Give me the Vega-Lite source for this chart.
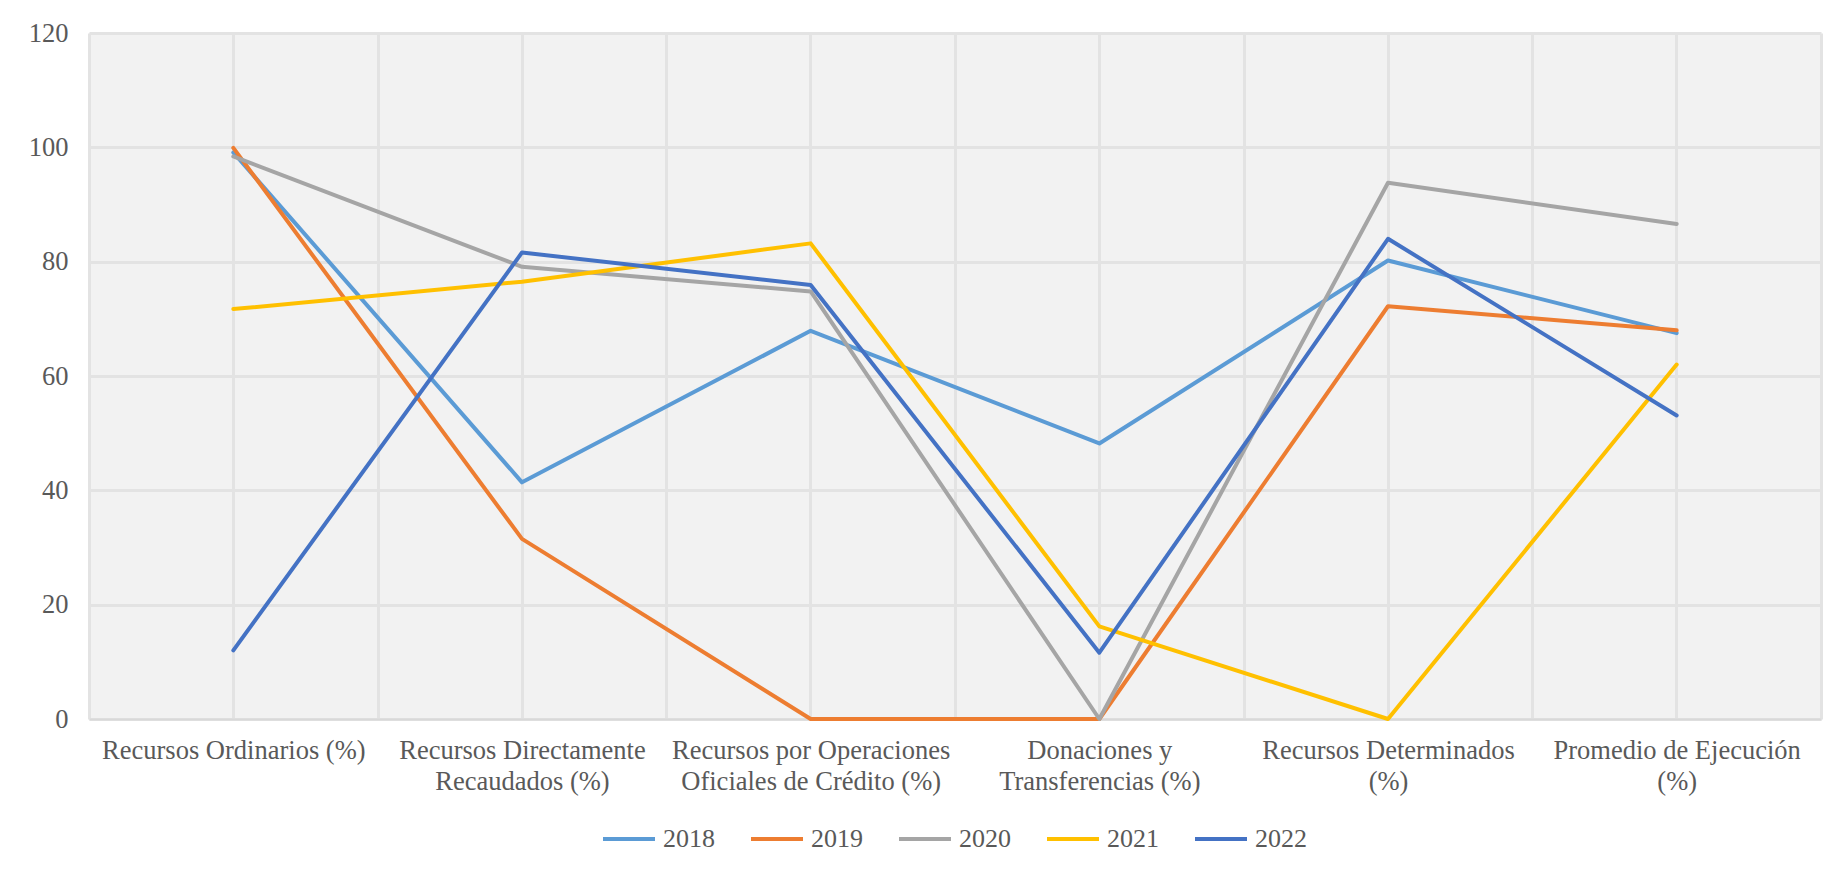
{
  "$schema": "https://vega.github.io/schema/vega-lite/v6.json",
  "autosize": {"type": "none"},
  "padding": {"left": 89, "top": 33, "right": 22, "bottom": 151},
  "width": 1732,
  "height": 686,
  "background": "white",
  "data": {
    "values": [
      {"cat": "Recursos Ordinarios (%)", "year": "2018", "v": 99.1},
      {"cat": "Recursos Ordinarios (%)", "year": "2019", "v": 99.9},
      {"cat": "Recursos Ordinarios (%)", "year": "2020", "v": 98.4},
      {"cat": "Recursos Ordinarios (%)", "year": "2021", "v": 71.7},
      {"cat": "Recursos Ordinarios (%)", "year": "2022", "v": 12.0},
      {"cat": "Recursos Directamente Recaudados (%)", "year": "2018", "v": 41.4},
      {"cat": "Recursos Directamente Recaudados (%)", "year": "2019", "v": 31.5},
      {"cat": "Recursos Directamente Recaudados (%)", "year": "2020", "v": 79.1},
      {"cat": "Recursos Directamente Recaudados (%)", "year": "2021", "v": 76.5},
      {"cat": "Recursos Directamente Recaudados (%)", "year": "2022", "v": 81.6},
      {"cat": "Recursos por Operaciones Oficiales de Crédito (%)", "year": "2018", "v": 67.9},
      {"cat": "Recursos por Operaciones Oficiales de Crédito (%)", "year": "2019", "v": 0},
      {"cat": "Recursos por Operaciones Oficiales de Crédito (%)", "year": "2020", "v": 74.8},
      {"cat": "Recursos por Operaciones Oficiales de Crédito (%)", "year": "2021", "v": 83.2},
      {"cat": "Recursos por Operaciones Oficiales de Crédito (%)", "year": "2022", "v": 75.9},
      {"cat": "Donaciones y Transferencias (%)", "year": "2018", "v": 48.2},
      {"cat": "Donaciones y Transferencias (%)", "year": "2019", "v": 0},
      {"cat": "Donaciones y Transferencias (%)", "year": "2020", "v": 0},
      {"cat": "Donaciones y Transferencias (%)", "year": "2021", "v": 16.2},
      {"cat": "Donaciones y Transferencias (%)", "year": "2022", "v": 11.6},
      {"cat": "Recursos Determinados (%)", "year": "2018", "v": 80.2},
      {"cat": "Recursos Determinados (%)", "year": "2019", "v": 72.2},
      {"cat": "Recursos Determinados (%)", "year": "2020", "v": 93.8},
      {"cat": "Recursos Determinados (%)", "year": "2021", "v": 0},
      {"cat": "Recursos Determinados (%)", "year": "2022", "v": 84.0},
      {"cat": "Promedio de Ejecución (%)", "year": "2018", "v": 67.5},
      {"cat": "Promedio de Ejecución (%)", "year": "2019", "v": 68.0},
      {"cat": "Promedio de Ejecución (%)", "year": "2020", "v": 86.6},
      {"cat": "Promedio de Ejecución (%)", "year": "2021", "v": 62.0},
      {"cat": "Promedio de Ejecución (%)", "year": "2022", "v": 53.1}
    ]
  },
  "layer": [
    {
      "mark": {"type": "line", "opacity": 0},
      "encoding": {
        "x": {
          "field": "cat", "type": "nominal",
          "sort": ["Recursos Ordinarios (%)", "Recursos Directamente Recaudados (%)", "Recursos por Operaciones Oficiales de Crédito (%)", "Donaciones y Transferencias (%)", "Recursos Determinados (%)", "Promedio de Ejecución (%)"],
          "scale": {"type": "band", "paddingInner": 0, "paddingOuter": 0},
          "axis": {"orient": "top", "title": null, "labels": false, "ticks": false, "domain": false, "grid": true}
        },
        "y": {
          "field": "v", "type": "quantitative", "scale": {"domain": [0, 120], "nice": false},
          "axis": {"title": null, "values": [0, 20, 40, 60, 80, 100, 120], "grid": true, "domain": false, "ticks": false, "labelPadding": 21}
        }
      }
    },
    {
      "mark": {"type": "line", "strokeWidth": 4, "strokeCap": "round", "strokeJoin": "round"},
      "encoding": {
        "x": {
          "field": "cat", "type": "nominal",
          "sort": ["Recursos Ordinarios (%)", "Recursos Directamente Recaudados (%)", "Recursos por Operaciones Oficiales de Crédito (%)", "Donaciones y Transferencias (%)", "Recursos Determinados (%)", "Promedio de Ejecución (%)"],
          "scale": {"type": "band", "paddingInner": 0, "paddingOuter": 0},
          "axis": {
            "orient": "bottom", "title": null, "labelAngle": 0, "ticks": false, "tickBand": "extent", "grid": true,
            "domain": true, "domainColor": "#d9d9d9", "domainWidth": 2,
            "labelPadding": 18, "labelLineHeight": 31, "labelLimit": 0,
            "labelExpr": "datum.value == 'Recursos Directamente Recaudados (%)' ? ['Recursos Directamente', 'Recaudados (%)'] : datum.value == 'Recursos por Operaciones Oficiales de Crédito (%)' ? ['Recursos por Operaciones', 'Oficiales de Crédito (%)'] : datum.value == 'Donaciones y Transferencias (%)' ? ['Donaciones y', 'Transferencias (%)'] : datum.value == 'Recursos Determinados (%)' ? ['Recursos Determinados', '(%)'] : datum.value == 'Promedio de Ejecución (%)' ? ['Promedio de Ejecución', '(%)'] : datum.label"
          }
        },
        "y": {
          "field": "v", "type": "quantitative", "scale": {"domain": [0, 120], "nice": false},
          "axis": {"title": null, "values": [0, 20, 40, 60, 80, 100, 120], "grid": true, "domain": false, "ticks": false, "labelPadding": 21}
        },
        "color": {
          "field": "year", "type": "nominal",
          "scale": {"domain": ["2018", "2019", "2020", "2021", "2022"], "range": ["#5B9BD5", "#ED7D31", "#A5A5A5", "#FFC000", "#4472C4"]},
          "legend": {
            "title": null, "orient": "none", "direction": "horizontal", "legendX": 512, "legendY": 778,
            "symbolType": "stroke", "symbolSize": 2704, "symbolStrokeWidth": 4,
            "labelOffset": 6, "columnPadding": 28
          }
        }
      }
    }
  ],
  "resolve": {"axis": {"x": "independent"}},
  "config": {
    "view": {"fill": "#f2f2f2", "stroke": null},
    "axis": {
      "labelFont": "Times New Roman, Liberation Serif, DejaVu Serif, serif", "labelFontSize": 26.5, "labelColor": "#595959",
      "gridColor": "#e3e3e3", "gridWidth": 3
    },
    "legend": {
      "labelFont": "Times New Roman, Liberation Serif, DejaVu Serif, serif", "labelFontSize": 26, "labelColor": "#595959"
    }
  }
}
